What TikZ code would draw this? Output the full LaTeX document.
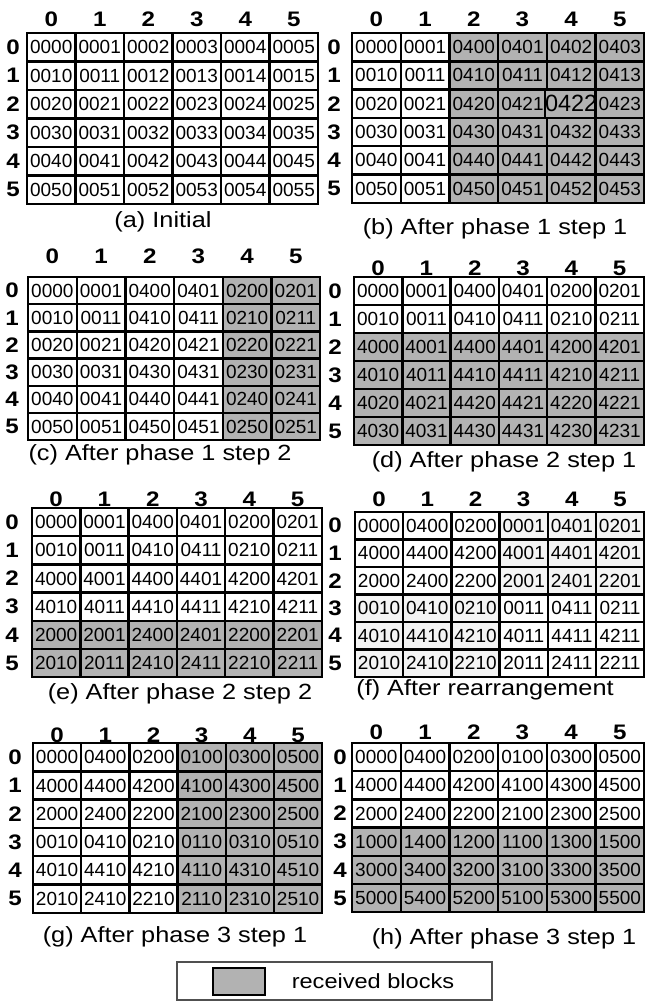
\documentclass[tikz,border=0pt]{standalone}
\usepackage{fontspec}
\setmainfont{Liberation Sans}[FakeStretch=1.15]
\newfontfamily\cellfam{Liberation Sans}
\definecolor{cellw}{RGB}{255,255,255}
\definecolor{cellg}{RGB}{178,178,178}
\definecolor{celll}{RGB}{244,244,244}
\definecolor{legborder}{RGB}{80,80,80}
\newcommand\mycellfont{\cellfam\fontsize{19}{19}\selectfont}
\newcommand\myheadfont{\fontsize{21}{21}\selectfont\bfseries}
\newcommand\mycapfont{\fontsize{22}{22}\selectfont}
\newcommand\mylegfont{\fontsize{20.5}{20.5}\selectfont}
\newcommand\bigcell{\fontsize{23.5}{23.5}\selectfont}
\tikzset{
  cell/.style={draw, line width=2.4pt, inner sep=0pt, font=\mycellfont},
  colhead/.style={inner sep=0pt, font=\myheadfont},
  capstyle/.style={inner sep=0pt, font=\mycapfont},
}
% name, x0, y0, w, h, header y, label x, rows
\newcommand\drawgrid[8]{%
  \foreach \r/\rowdata in {#8} {
    \foreach \v/\f [count=\c from 0] in \rowdata {
      \node[cell, fill=cell\f, minimum width=#4pt, minimum height=#5pt]
        (#1-\r-\c) at ({#2+(\c+0.5)*#4},{#3+(\r+0.5)*#5}) {\v};
    }
  }
  \foreach \c in {0,...,5} {
    \node[colhead] (#1-h\c) at ({#2+(\c+0.5)*#4},#6) {\c};
  }
  \foreach \r in {0,...,5} {
    \node[colhead] (#1-l\r) at (#7,{#3+(\r+0.5)*#5}) {\r};
  }
}
\begin{document}
\begin{tikzpicture}[x=1pt,y=-1pt]
\useasboundingbox[fill=white] (0,0) rectangle (645,1001);

% (a)
\drawgrid{a}{27}{33}{48.5}{28.5}{19}{13}{%
0/{0000/w,0001/w,0002/w,0003/w,0004/w,0005/w},
1/{0010/w,0011/w,0012/w,0013/w,0014/w,0015/w},
2/{0020/w,0021/w,0022/w,0023/w,0024/w,0025/w},
3/{0030/w,0031/w,0032/w,0033/w,0034/w,0035/w},
4/{0040/w,0041/w,0042/w,0043/w,0044/w,0045/w},
5/{0050/w,0051/w,0052/w,0053/w,0054/w,0055/w}}
\node[capstyle] (a-cap) at (163,222) {(a) Initial};

% (b)
\drawgrid{b}{352}{33}{48.7}{28.3}{19}{334}{%
0/{0000/w,0001/w,0400/g,0401/g,0402/g,0403/g},
1/{0010/w,0011/w,0410/g,0411/g,0412/g,0413/g},
2/{0020/w,0021/w,0420/g,0421/g,\bigcell0422/g,0423/g},
3/{0030/w,0031/w,0430/g,0431/g,0432/g,0433/g},
4/{0040/w,0041/w,0440/g,0441/g,0442/g,0443/g},
5/{0050/w,0051/w,0450/g,0451/g,0452/g,0453/g}}
\node[capstyle] (b-cap) at (495,229) {(b) After phase 1 step 1};

% (c)
\drawgrid{c}{28}{277}{48.7}{27.2}{256}{12}{%
0/{0000/w,0001/w,0400/w,0401/w,0200/g,0201/g},
1/{0010/w,0011/w,0410/w,0411/w,0210/g,0211/g},
2/{0020/w,0021/w,0420/w,0421/w,0220/g,0221/g},
3/{0030/w,0031/w,0430/w,0431/w,0230/g,0231/g},
4/{0040/w,0041/w,0440/w,0441/w,0240/g,0241/g},
5/{0050/w,0051/w,0450/w,0451/w,0250/g,0251/g}}
\node[capstyle] (c-cap) at (160,455) {(c) After phase 1 step 2};

% (d)
\drawgrid{d}{354}{277}{48.3}{28}{268}{335}{%
0/{0000/w,0001/w,0400/w,0401/w,0200/w,0201/w},
1/{0010/w,0011/w,0410/w,0411/w,0210/w,0211/w},
2/{4000/g,4001/g,4400/g,4401/g,4200/g,4201/g},
3/{4010/g,4011/g,4410/g,4411/g,4210/g,4211/g},
4/{4020/g,4021/g,4420/g,4421/g,4220/g,4221/g},
5/{4030/g,4031/g,4430/g,4431/g,4230/g,4231/g}}
\node[capstyle] (d-cap) at (504,462) {(d) After phase 2 step 1};

% (e)
\drawgrid{e}{32}{508}{48.3}{28.2}{499}{12}{%
0/{0000/w,0001/w,0400/w,0401/w,0200/w,0201/w},
1/{0010/w,0011/w,0410/w,0411/w,0210/w,0211/w},
2/{4000/w,4001/w,4400/w,4401/w,4200/w,4201/w},
3/{4010/w,4011/w,4410/w,4411/w,4210/w,4211/w},
4/{2000/g,2001/g,2400/g,2401/g,2200/g,2201/g},
5/{2010/g,2011/g,2410/g,2411/g,2210/g,2211/g}}
\node[capstyle] (e-cap) at (180,694) {(e) After phase 2 step 2};

% (f)
\drawgrid{f}{355}{512}{48.2}{27.5}{499}{335}{%
0/{0000/w,0400/w,0200/w,0001/l,0401/l,0201/l},
1/{4000/w,4400/w,4200/w,4001/l,4401/l,4201/l},
2/{2000/w,2400/w,2200/w,2001/l,2401/l,2201/l},
3/{0010/l,0410/l,0210/l,0011/w,0411/w,0211/w},
4/{4010/l,4410/l,4210/l,4011/w,4411/w,4211/w},
5/{2010/l,2410/l,2210/l,2011/w,2411/w,2211/w}}
\node[capstyle] (f-cap) at (485,690) {(f) After rearrangement};

% (g)
\drawgrid{g}{33}{743}{48.2}{28.3}{735}{15}{%
0/{0000/w,0400/w,0200/w,0100/g,0300/g,0500/g},
1/{4000/w,4400/w,4200/w,4100/g,4300/g,4500/g},
2/{2000/w,2400/w,2200/w,2100/g,2300/g,2500/g},
3/{0010/w,0410/w,0210/w,0110/g,0310/g,0510/g},
4/{4010/w,4410/w,4210/w,4110/g,4310/g,4510/g},
5/{2010/w,2410/w,2210/w,2110/g,2310/g,2510/g}}
\node[capstyle] (g-cap) at (175,937) {(g) After phase 3 step 1};

% (h)
\drawgrid{h}{352}{743}{48.7}{28.2}{732}{340}{%
0/{0000/w,0400/w,0200/w,0100/w,0300/w,0500/w},
1/{4000/w,4400/w,4200/w,4100/w,4300/w,4500/w},
2/{2000/w,2400/w,2200/w,2100/w,2300/w,2500/w},
3/{1000/g,1400/g,1200/g,1100/g,1300/g,1500/g},
4/{3000/g,3400/g,3200/g,3100/g,3300/g,3500/g},
5/{5000/g,5400/g,5200/g,5100/g,5300/g,5500/g}}
\node[capstyle] (h-cap) at (504,939) {(h) After phase 3 step 1};

% legend
\node[draw=legborder, line width=1.6pt, minimum width=315pt, minimum height=38pt, inner sep=0pt] (leg) at (334.5,981) {};
\node[draw, line width=1.5pt, fill=cellg, minimum width=52pt, minimum height=27pt, inner sep=0pt] (legsw) at (239,981.5) {};
\node[inner sep=0pt, font=\mylegfont] (legtxt) at (373,981) {received blocks};
\end{tikzpicture}
\end{document}
